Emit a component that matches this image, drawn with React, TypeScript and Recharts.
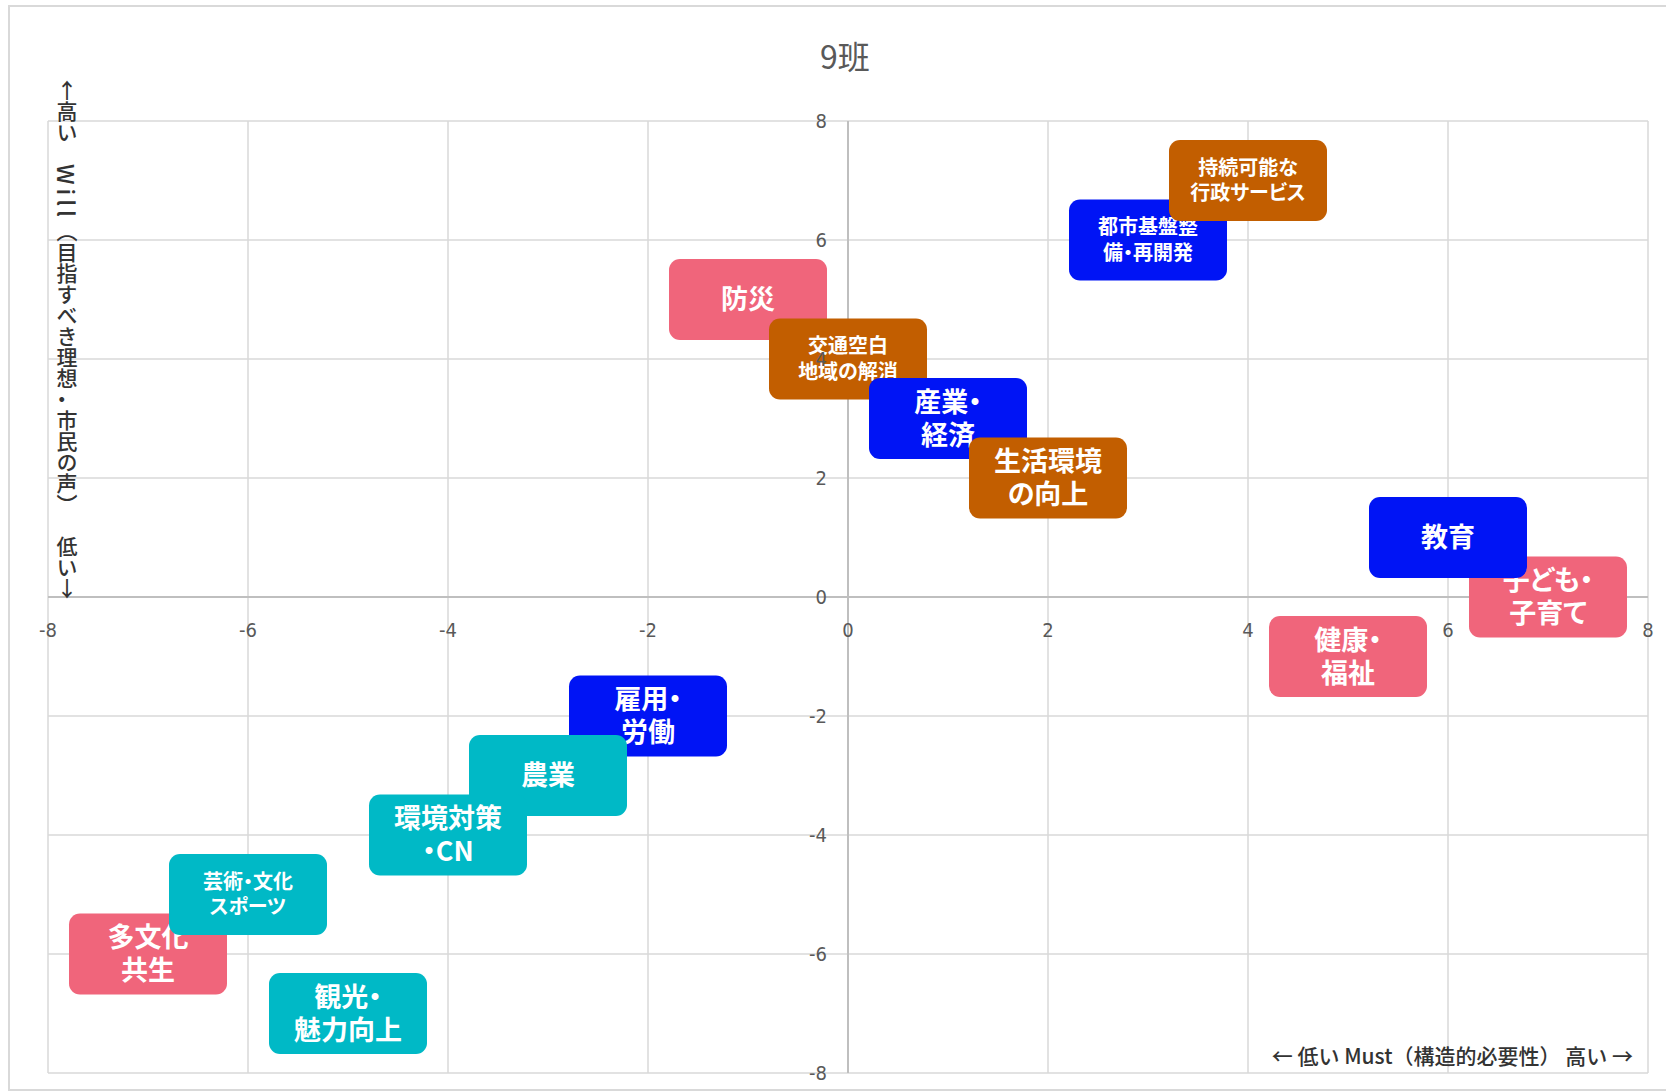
import { ScatterChart, Scatter, XAxis, YAxis, CartesianGrid, ReferenceLine, ReferenceDot } from "recharts";

const TITLE = "9班";
const X_TITLE = "← 低い Must（構造的必要性） 高い →";
const Y_TITLE_PARTS = ["↑", "高い　", "Will", "（目指すべき理想・市民の声）　低い", "↓"];

// topics in drawing order (later ones sit on top)
const TOPICS = [
  "防災",
  "交通空白\n地域の解消",
  "産業・\n経済",
  "生活環境\nの向上",
  "都市基盤整\n備・再開発",
  "持続可能な\n行政サービス",
  "子ども・\n子育て",
  "教育",
  "健康・\n福祉",
  "雇用・\n労働",
  "農業",
  "環境対策\n・CN",
  "多文化\n共生",
  "芸術・文化\nスポーツ",
  "観光・\n魅力向上",
];
const MUST = [-1, 0, 1, 2, 3, 4, 7, 6, 5, -2, -3, -4, -7, -6, -5];
const WILL = [5, 4, 3, 2, 6, 7, 0, 1, -1, -2, -3, -4, -6, -5, -7];
// 0: pink, 1: brown, 2: blue, 3: teal
const GROUPS = [0, 1, 2, 1, 2, 1, 0, 2, 0, 2, 3, 3, 0, 3, 3];
const TICKS = [-8, -6, -4, -2, 0, 2, 4, 6, 8];

const PALETTE = ["#F0657B", "#C25E00", "#0014F5", "#00B9C6"];
const JP = '"Noto Sans CJK JP", "Noto Sans", sans-serif';
const TICK_FONT = '"DejaVu Sans Condensed", "Roboto", sans-serif';

const data = TOPICS.map((name, i) => ({ x: MUST[i], y: WILL[i], name, group: GROUPS[i] }));

function TopicBox(props: any) {
  const { cx, cy, payload } = props;
  const lines: string[] = payload.name.split("\n");
  const small = Math.max(...lines.map((l) => l.length)) >= 5;
  const fs = small ? 20 : 27;
  const lh = small ? 25.5 : 33;
  const w = 158;
  const h = 81;
  return (
    <g>
      <rect x={cx - w / 2} y={cy - h / 2} width={w} height={h} rx={11} ry={11} fill={PALETTE[payload.group]} />
      <text
        textAnchor="middle"
        fill="#fff"
        fontSize={fs}
        fontWeight={700}
        fontFamily={JP}
        style={{ fontFeatureSettings: '"palt"' }}
      >
        {lines.map((l, k) => (
          <tspan key={k} x={cx} y={cy + (k - (lines.length - 1) / 2) * lh + fs * 0.36}>
            {l}
          </tspan>
        ))}
      </text>
    </g>
  );
}

const tickLabel = (position: "bottom" | "left", offset: number) => (v: number) => ({
  value: String(v),
  position,
  offset,
  fill: "#595959",
  fontSize: 20,
  fontFamily: TICK_FONT,
});

export default function App() {
  const xLabel = tickLabel("bottom", 25);
  const yLabel = tickLabel("left", 20);
  return (
    <div style={{ position: "fixed", left: 0, top: 0, width: 1666, height: 1092, overflow: "hidden", background: "#fff" }}>
      <div
        style={{
          position: "absolute",
          left: 8,
          top: 5,
          width: 1700,
          height: 1082,
          border: "2px solid #D9D9D9",
        }}
      />
      <div style={{ position: "absolute", left: 0, top: 0 }}>
        <ScatterChart width={1666} height={1092} margin={{ top: 121, right: 18, bottom: 19, left: 48 }}>
          <CartesianGrid stroke="#D9D9D9" strokeWidth={1.5} />
          <XAxis type="number" dataKey="x" domain={[-8, 8]} ticks={TICKS} hide />
          <YAxis type="number" dataKey="y" domain={[-8, 8]} ticks={TICKS} hide />
          <ReferenceLine x={0} stroke="#BFBFBF" strokeWidth={2} />
          <ReferenceLine y={0} stroke="#BFBFBF" strokeWidth={2} />
          {TICKS.map((v) => (
            <ReferenceDot key={"x" + v} x={v} y={0} r={1} fill="none" stroke="none" label={xLabel(v)} />
          ))}
          {TICKS.map((v) => (
            <ReferenceDot key={"y" + v} x={0} y={v} r={1} fill="none" stroke="none" label={yLabel(v)} />
          ))}
          <Scatter data={data} shape={TopicBox} isAnimationActive={false} />
        </ScatterChart>
      </div>
      <div
        style={{
          position: "absolute",
          left: 745,
          top: 37,
          width: 200,
          textAlign: "center",
          fontFamily: JP,
          fontSize: 32,
          lineHeight: "36px",
          color: "#595959",
        }}
      >
        {TITLE}
      </div>
      <div
        style={{
          position: "absolute",
          left: 55,
          top: 80,
          writingMode: "vertical-rl",
          textOrientation: "mixed",
          fontFamily: JP,
          fontSize: 21,
          fontWeight: 500,
          lineHeight: "24px",
          color: "#333333",
          whiteSpace: "nowrap",
          fontFeatureSettings: '"palt"',
        }}
      >
        <span style={{ textOrientation: "upright" }}>{Y_TITLE_PARTS[0]}</span>
        {Y_TITLE_PARTS[1]}
        <span style={{ fontSize: 23, letterSpacing: 4 }}>{Y_TITLE_PARTS[2]}</span>
        {Y_TITLE_PARTS[3]}
        <span style={{ textOrientation: "upright" }}>{Y_TITLE_PARTS[4]}</span>
      </div>
      <div
        style={{
          position: "absolute",
          left: 1133,
          top: 1043,
          width: 500,
          textAlign: "right",
          fontFamily: JP,
          fontSize: 21,
          fontWeight: 500,
          lineHeight: "24px",
          color: "#333333",
          whiteSpace: "nowrap",
        }}
      >
        {X_TITLE}
      </div>
    </div>
  );
}
